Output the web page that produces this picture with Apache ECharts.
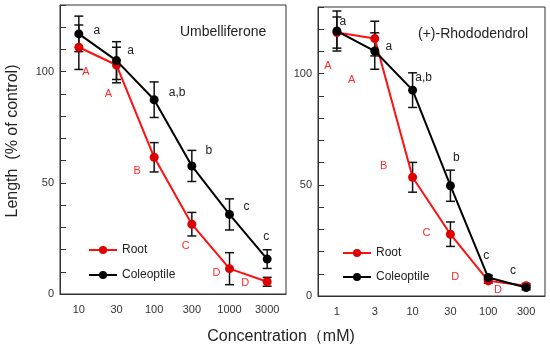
<!DOCTYPE html>
<html>
<head>
<meta charset="utf-8">
<script src="https://cdn.jsdelivr.net/npm/echarts@6/dist/echarts.min.js"></script>
<style>html,body{margin:0;padding:0;background:#fff}#c{width:550px;height:349px}</style>
</head>
<body>
<div id="c"></div>
<script>
// ---- data ----
const umbCats = ['10', '30', '100', '300', '1000', '3000'];
const umbRoot = [111, 103, 61.5, 31.4, 11.4, 5.5];
const umbRootErr = [10, 8, 6.6, 5.3, 7.2, 2];
const umbCol = [117, 105, 87.4, 57.6, 35.8, 15.7];
const umbColErr = [8, 8.5, 8, 7, 7, 4.2];
const umbRootLetters = ['A', 'A', 'B', 'C', 'D', 'D'];
const umbColLetters = ['a', 'a', 'a,b', 'b', 'c', 'c'];

const rhoCats = ['1', '3', '10', '30', '100', '300'];
const rhoRoot = [118.5, 115.8, 53.4, 27.8, 6.8, 4.6];
const rhoRootErr = [7, 7.8, 6.7, 5.5, 1, 1];
const rhoCol = [119.2, 110.2, 92.6, 49.6, 8.3, 3.8];
const rhoColErr = [9, 8.2, 7.8, 7, 1, 1];
const rhoRootLetters = ['A', 'A', 'B', 'C', 'D', 'D'];
const rhoColLetters = ['a', 'a', 'a,b', 'b', 'c', 'c'];

const yTicks = [0, 50, 100];

// ---- annotation placement (pixel offsets from each point) ----
const umbColOff = [[18, -3], [14, -10], [23, -7], [17, -15], [17, -8], [-1, -22]];
const umbRootOff = [[7, 25], [-8, 29], [-17, 14], [-6, 22], [-13, 4], [-22, 1]];
const rhoColOff = [[6, -9], [14, -4], [11, -12], [6, -28], [-2, -22], [-13, -17]];
const rhoRootOff = [[-9, 33], [-23, 41], [-29, -11], [-24, -1], [-33, -4], [-28, 4]];

const FONT = '"Liberation Sans", Arial, sans-serif';
const RED_LINE = '#ff1010';
const RED_MARK = '#dd0000';
const RED_TEXT = '#ff2a2a';

function withLabels(vals, letters, offs, color, size) {
  return vals.map((v, i) => ({
    value: v,
    label: { show: true, formatter: letters[i], position: 'inside', offset: offs[i],
      color: color, fontSize: size, fontFamily: FONT }
  }));
}

function errData(vals, errs) {
  return vals.map((v, i) => [i, v - errs[i], v + errs[i]]);
}

function errSeries(idx, vals, errs) {
  return {
    type: 'custom', xAxisIndex: idx, yAxisIndex: idx, z: 1, silent: true,
    data: errData(vals, errs),
    encode: { x: 0, y: [1, 2] },
    renderItem: function (params, api) {
      const lo = api.coord([api.value(0), api.value(1)]);
      const hi = api.coord([api.value(0), api.value(2)]);
      const w = 4.5;
      const st = { stroke: '#111', lineWidth: 1.5, fill: null };
      return {
        type: 'group', children: [
          { type: 'line', shape: { x1: lo[0], y1: lo[1], x2: hi[0], y2: hi[1] }, style: st },
          { type: 'line', shape: { x1: lo[0] - w, y1: lo[1], x2: lo[0] + w, y2: lo[1] }, style: st },
          { type: 'line', shape: { x1: hi[0] - w, y1: hi[1], x2: hi[0] + w, y2: hi[1] }, style: st }
        ]
      };
    }
  };
}

function lineSeries(idx, name, data, lineColor, markColor, z) {
  return {
    type: 'line', name: name, xAxisIndex: idx, yAxisIndex: idx, z: z,
    data: data, symbol: 'circle', symbolSize: 9,
    lineStyle: { color: lineColor, width: 2 },
    itemStyle: { color: markColor, borderWidth: 0 },
    emphasis: { disabled: true }, animation: false
  };
}

function xAx(idx, cats) {
  return {
    type: 'category', gridIndex: idx, data: cats, boundaryGap: true,
    axisLine: { lineStyle: { color: '#333', width: 1 } },
    axisTick: { inside: true, alignWithLabel: true, length: 6, lineStyle: { color: '#333' } },
    axisLabel: { color: '#333', fontSize: 11, fontFamily: FONT, margin: 10 },
    splitLine: { show: false }
  };
}
function yAx(idx) {
  return {
    type: 'value', gridIndex: idx, min: 0, max: 130, interval: 10,
    axisLine: { show: true, lineStyle: { color: '#333', width: 1 } },
    axisTick: { show: true, inside: true, length: 6, lineStyle: { color: '#333' } },
    axisLabel: { color: '#333', fontSize: 11, fontFamily: FONT, margin: 6,
      formatter: v => (yTicks.indexOf(v) >= 0 ? String(v) : '') },
    splitLine: { show: false }
  };
}

const legendIcon = 'path://M0,4.5 L10,4.5 A4.5,4.5 0 1,1 19,4.5 L29,4.5 L29,5.5 L19,5.5 A4.5,4.5 0 1,1 10,5.5 L0,5.5 Z';

const chart = echarts.init(document.getElementById('c'), null, { renderer: 'canvas' });
chart.setOption({
  animation: false,
  backgroundColor: '#fff',
  textStyle: { fontFamily: FONT },
  grid: [
    { left: 60, top: 5, width: 226, height: 289, show: true, borderColor: '#333', borderWidth: 1 },
    { left: 318, top: 7, width: 227, height: 289, show: true, borderColor: '#333', borderWidth: 1 }
  ],
  xAxis: [xAx(0, umbCats), xAx(1, rhoCats)],
  yAxis: [yAx(0), yAx(1)],
  legend: [
    { orient: 'vertical', left: 83, top: 239, itemWidth: 28, itemHeight: 10, itemGap: 13,
      data: ['Root', 'Coleoptile'], textStyle: { fontSize: 12, color: '#222', fontFamily: FONT },
      selectedMode: false },
    { orient: 'vertical', left: 337, top: 242, itemWidth: 28, itemHeight: 10, itemGap: 12,
      data: ['Root ', 'Coleoptile '], textStyle: { fontSize: 12, color: '#222', fontFamily: FONT },
      formatter: n => n.trim(), selectedMode: false }
  ],
  graphic: [
    { type: 'text', x: 180, y: 32, style: { text: 'Umbelliferone', font: '14px ' + FONT, fill: '#222',
      textAlign: 'left', textVerticalAlign: 'middle' } },
    { type: 'text', x: 418, y: 34, style: { text: '(+)-Rhododendrol', font: '14px ' + FONT, fill: '#222',
      textAlign: 'left', textVerticalAlign: 'middle' } },
    { type: 'text', x: 281, y: 337, style: { text: 'Concentration（mM)', font: '16px ' + FONT, fill: '#222',
      textAlign: 'center', textVerticalAlign: 'middle' } },
    { type: 'text', x: 13, y: 141, rotation: Math.PI / 2, style: { text: 'Length  (% of control)',
      font: '16px ' + FONT, fill: '#222', textAlign: 'center', textVerticalAlign: 'middle' } }
  ],
  series: [
    errSeries(0, umbRoot, umbRootErr),
    errSeries(0, umbCol, umbColErr),
    errSeries(1, rhoRoot, rhoRootErr),
    errSeries(1, rhoCol, rhoColErr),
    Object.assign(lineSeries(0, 'Root', withLabels(umbRoot, umbRootLetters, umbRootOff, RED_TEXT, 11), RED_LINE, RED_MARK, 3), { legendIcon: legendIcon }),
    Object.assign(lineSeries(0, 'Coleoptile', withLabels(umbCol, umbColLetters, umbColOff, '#222', 12), '#000', '#000', 4), { legendIcon: legendIcon }),
    Object.assign(lineSeries(1, 'Root ', withLabels(rhoRoot, rhoRootLetters, rhoRootOff, RED_TEXT, 11), RED_LINE, RED_MARK, 3), { legendIcon: legendIcon }),
    Object.assign(lineSeries(1, 'Coleoptile ', withLabels(rhoCol, rhoColLetters, rhoColOff, '#222', 12), '#000', '#000', 4), { legendIcon: legendIcon })
  ]
});
</script>
</body>
</html>
